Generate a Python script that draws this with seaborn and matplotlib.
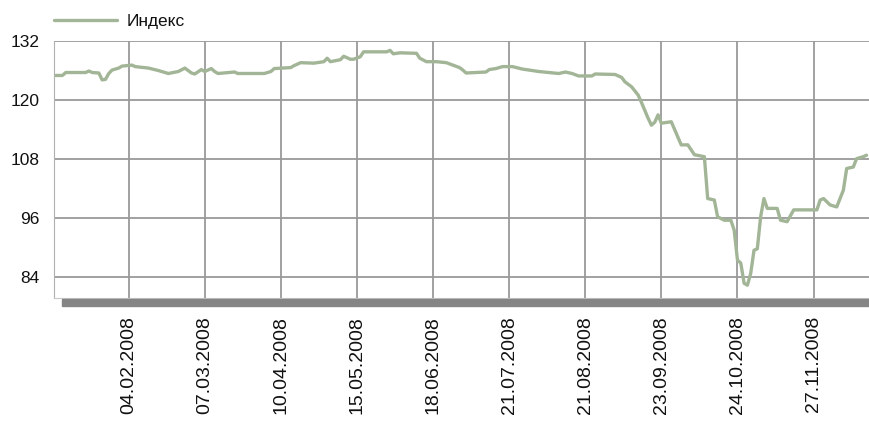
import matplotlib
matplotlib.use("Agg")
import matplotlib.pyplot as plt
from matplotlib.patches import Rectangle
import seaborn as sns
import pandas as pd

# trading-day index and index value
day = [0, 2, 3, 9, 10, 11, 13, 14, 15, 16, 17, 19, 20, 23, 24, 28, 31, 34, 37, 39,
       41, 42, 44, 45, 47, 48, 49, 54, 55, 61, 63, 65, 66, 71, 72, 74, 78, 81, 82, 83,
       86, 87, 89, 90, 92, 93, 100, 101, 102, 104, 109, 110, 112, 115, 118, 120, 122, 123, 124, 130,
       131, 133, 135, 138, 141, 146, 152, 154, 156, 158, 162, 163, 169, 171, 172, 174, 176, 177, 179, 180,
       181, 182, 183, 186, 189, 191, 193, 196, 197, 199, 200, 202, 204, 205, 206, 207, 208, 209, 210, 211,
       212, 213, 214, 215, 218, 219, 221, 223, 230, 231, 232, 234, 236, 238, 239, 241, 242, 244, 245]
value = [125.0, 125.0, 125.6, 125.6, 125.9, 125.6, 125.5, 124.1, 124.2, 125.4, 126.1, 126.5, 126.9, 127.1, 126.8, 126.5, 126.0, 125.4, 125.8, 126.5,
         125.5, 125.3, 126.2, 125.8, 126.4, 125.8, 125.4, 125.7, 125.4, 125.4, 125.4, 125.8, 126.4, 126.6, 127.0, 127.6, 127.5, 127.8, 128.5, 127.8,
         128.2, 128.9, 128.3, 128.3, 128.8, 129.8, 129.8, 130.1, 129.4, 129.6, 129.5, 128.5, 127.8, 127.8, 127.6, 127.1, 126.6, 126.1, 125.5, 125.7,
         126.2, 126.4, 126.8, 126.8, 126.3, 125.8, 125.4, 125.7, 125.4, 124.9, 124.9, 125.3, 125.2, 124.6, 123.7, 122.7, 121.0, 119.5, 116.3, 114.9,
         115.5, 117.0, 115.3, 115.6, 110.9, 110.9, 108.9, 108.5, 100.0, 99.7, 96.3, 95.6, 95.6, 93.6, 87.5, 86.9, 82.8, 82.4, 84.8, 89.5,
         89.8, 96.3, 100.0, 98.0, 98.0, 95.6, 95.3, 97.7, 97.7, 99.7, 100.0, 98.7, 98.3, 101.7, 106.1, 106.4, 108.1, 108.5, 108.8]

tick_days = [22, 45, 68, 91, 114, 137, 160, 183, 206, 229]
tick_labels = ["04.02.2008", "07.03.2008", "10.04.2008", "15.05.2008", "18.06.2008",
               "21.07.2008", "21.08.2008", "23.09.2008", "24.10.2008", "27.11.2008"]
y_ticks = [84, 96, 108, 120, 132]
series_name = "Индекс"

sns.set_style("white")
plt.rcParams["font.family"] = ["Liberation Sans", "DejaVu Sans"]

df = pd.DataFrame({"day": day, "value": value, "series": series_name})

fig = plt.figure(figsize=(8.69, 4.24), dpi=100)
ax = fig.add_axes([53.7 / 869, 1 - 298 / 424, 1 - 53.7 / 869, (298 - 41) / 424])

grid_c = "#9a9a9a"
line_c = "#a2b596"
ax.set_xlim(-0.64, 245.75)
ax.set_ylim(79.8, 132)
ax.set_xticks(tick_days)
ax.set_xticklabels(tick_labels, rotation=90, fontsize=14, color="#111111")
ax.set_yticks(y_ticks)
ax.set_yticklabels([str(v) for v in y_ticks], fontsize=12.5, color="#111111")
ax.grid(True, color=grid_c, linewidth=1.3)
ax.set_axisbelow(True)
ax.tick_params(axis="x", direction="out", length=10, width=1.0, color=grid_c, pad=3)
ax.tick_params(axis="y", direction="out", length=6.5, width=1.0, color=grid_c, pad=3.5)

sns.lineplot(data=df, x="day", y="value", hue="series", palette=[line_c],
             linewidth=2.4, ax=ax, legend=False)

for s in ["top", "right"]:
    ax.spines[s].set_visible(False)
ax.spines["left"].set_color("#b0b0b0")
ax.spines["bottom"].set_color("#c8c8c8")
ax.set_xlabel("")
ax.set_ylabel("")

# shaded base bar under the plot area
fig.patches.append(Rectangle((62 / 869, 1 - 306 / 424), 1 - 62 / 869, 7 / 424,
                             transform=fig.transFigure, color="#858585", zorder=5))

handle = plt.Line2D([], [], color=line_c, linewidth=2.4)
fig.legend([handle], [series_name], loc="center left", bbox_to_anchor=(54 / 869, 1 - 21 / 424),
           frameon=False, fontsize=12.5, handlelength=3.6, handletextpad=0.6, borderpad=0,
           borderaxespad=0, labelcolor="#111111")

fig.savefig("out.png", dpi=100)
